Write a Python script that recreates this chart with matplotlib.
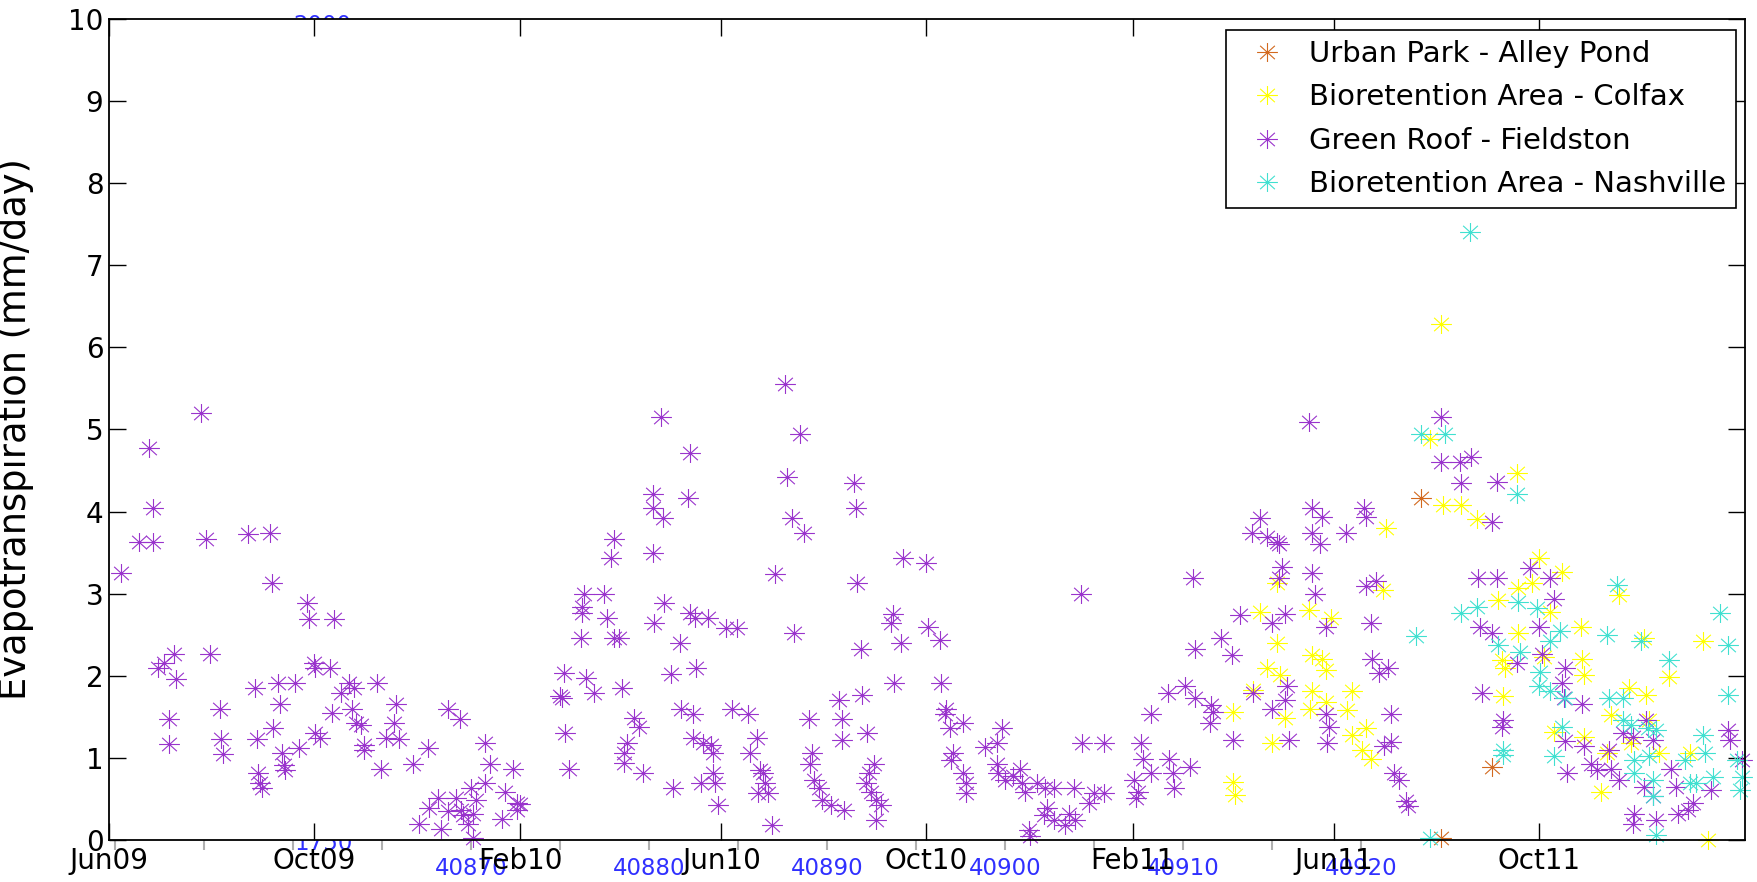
import numpy as np
import matplotlib
matplotlib.use("Agg")
import matplotlib.pyplot as plt
import matplotlib.dates as mdates
from matplotlib.path import Path

# days after 2009-06-01, evapotranspiration in mm/day
alley_day = [782, 824, 794]
alley_et = [4.16, 0.89, 0.02]

colfax_day = [794, 787, 839, 795, 806, 815, 761,
              686, 715, 728, 696, 759, 696, 717, 723, 725, 690, 698, 682, 670, 717,
              725, 716, 738, 741, 701, 693, 749, 741, 747, 752, 670, 671,
              852, 866, 840, 848, 828, 859, 840, 877, 900, 915, 950, 930, 830, 832,
              878, 879, 855, 831, 906, 916, 895, 918, 861, 879, 907, 924, 942, 889,
              953, 893]
colfax_et = [6.29, 4.88, 4.47, 4.08, 4.08, 3.91, 3.80,
             2.78, 2.80, 2.70, 3.13, 3.05, 2.40, 2.25, 2.21, 2.07, 2.09, 2.01, 1.83, 1.56, 1.81,
             1.68, 1.60, 1.58, 1.81, 1.48, 1.18, 1.36, 1.28, 1.10, 0.99, 0.71, 0.55,
             3.43, 3.27, 3.07, 3.13, 2.92, 2.78, 2.52, 2.60, 2.98, 2.46, 2.42, 1.99, 2.19, 2.09,
             2.21, 2.01, 2.23, 1.75, 1.85, 1.77, 1.52, 1.46, 1.32, 1.26, 1.18, 1.06, 1.06, 0.59,
             0.0, 1.06]

fieldston_day = [7, 18, 26, 24, 26, 29, 33, 39, 40, 36, 36, 55, 58, 60, 66, 67, 68,
                 83, 96, 97, 87, 88, 89, 90, 91, 101, 102, 98, 103, 104, 105, 111, 113,
                 118, 119, 134, 122, 123, 132, 123, 126, 133, 138, 143, 146, 145, 147,
                 150, 152, 152, 160, 171, 170, 165, 173, 162, 181, 190, 185, 191, 196,
                 198, 202, 209, 202, 207, 210, 211, 214, 216, 217, 217, 219, 224, 227,
                 224, 236, 234, 241, 243, 245, 243, 271, 269, 270, 272, 274, 283, 282,
                 282, 281, 284, 289, 295, 297, 301, 304, 301, 299, 306, 313, 316, 309,
                 307, 307, 318, 324, 324, 324, 325,
                 329, 330, 346, 345, 331, 346, 349, 357, 368, 374, 340, 335, 350, 341,
                 348, 371, 381, 348, 354, 359, 360, 353, 360, 361, 363, 336, 386, 382,
                 388, 390, 391, 387, 393, 395, 403, 412, 404, 407, 414, 397, 408, 444,
                 445, 446, 473, 487, 448, 467, 466, 472, 488, 495, 468, 496, 435, 449,
                 417, 437, 437, 452, 419, 418, 420, 423, 425, 430, 438, 456, 453, 451,
                 454, 457, 460, 457, 499, 498, 509, 501, 503, 502, 509, 511, 511, 522,
                 529, 532, 529, 530, 534, 539, 543, 544, 546, 553, 558, 563, 575, 559,
                 557, 563, 570, 548, 549, 572, 576, 584, 587, 593, 579, 580, 593, 611,
                 612, 613, 615, 616, 621, 621, 631, 641, 647, 632, 634, 635, 644, 646,
                 647,
                 715, 794, 794, 805, 812, 806, 827, 824, 686, 717, 723, 748, 749,
                 681, 690, 696, 697, 717, 722, 737, 699, 697, 717, 719, 749, 755, 674,
                 693, 701, 725, 752, 663, 669, 753, 757, 762, 657, 658, 656, 682, 702,
                 701, 693, 670, 703, 725, 727, 726, 764, 760, 764, 766, 769, 773, 774,
                 816, 827, 847, 859, 861, 852, 817, 824, 854, 839, 868, 866, 818, 878,
                 831, 830, 867, 879, 868, 883, 869, 887, 895, 900, 902, 908, 916, 920,
                 915, 920, 909, 908, 922, 931, 934, 935, 941, 944, 955, 965, 966, 973,
                 894]
fieldston_et = [3.25, 3.63, 3.63, 4.77, 4.04, 2.09, 2.16, 2.26, 1.96, 1.47, 1.17, 5.20, 3.67, 2.27, 1.60, 1.23, 1.05,
                3.73, 3.74, 3.13, 1.85, 1.23, 0.81, 0.69, 0.63, 1.91, 1.66, 1.36, 1.06, 0.91, 0.85, 1.91, 1.12,
                2.89, 2.69, 2.69, 2.15, 2.09, 2.10, 1.30, 1.24, 1.55, 1.79, 1.91, 1.85, 1.60, 1.42,
                1.40, 1.16, 1.10, 1.91, 1.66, 1.42, 1.24, 1.23, 0.86, 0.93, 1.12, 0.20, 0.39, 0.51,
                0.14, 1.60, 1.47, 0.35, 0.51, 0.37, 0.30, 0.20, 0.63, 0.32, 0.02, 0.49, 1.18, 0.93,
                0.69, 0.58, 0.26, 0.86, 0.45, 0.44, 0.37, 2.03, 1.75, 1.73, 1.30, 0.87, 3.00, 2.84,
                2.76, 2.46, 1.97, 1.79, 3.00, 2.70, 2.46, 2.46, 3.67, 3.43, 1.85, 1.48, 1.38, 1.18,
                1.06, 0.94, 0.81, 4.22, 4.04, 3.49, 2.64,
                5.15, 3.92, 4.71, 4.16, 2.89, 2.76, 2.70, 2.70, 2.58, 2.58, 2.40, 2.02, 2.09, 1.60,
                1.54, 1.60, 1.54, 1.24, 1.18, 1.16, 1.06, 0.69, 0.81, 0.69, 0.43, 0.63, 1.24, 1.06,
                0.85, 0.81, 0.69, 0.57, 0.57, 0.18, 5.56, 4.95, 4.42, 3.92, 3.74, 3.24, 2.52, 4.35,
                4.04, 3.13, 3.43, 3.38, 2.33, 2.75, 2.64, 2.40, 2.59, 2.44, 1.91, 1.91, 1.71, 1.77,
                1.47, 1.47, 1.22, 1.30, 1.06, 0.93, 0.73, 0.63, 0.49, 0.43, 0.37, 0.93, 0.81, 0.69,
                0.59, 0.49, 0.43, 0.24, 1.60, 1.54, 1.42, 1.36, 1.06, 0.98, 0.81, 0.69, 0.57, 1.13,
                1.18, 1.36, 0.93, 0.81, 0.73, 0.78, 0.87, 0.69, 0.59, 0.69, 0.63, 0.63, 0.63, 0.39,
                0.30, 0.24, 0.18, 0.12, 0.05, 0.32, 0.24, 0.45, 0.57, 0.57, 3.00, 1.18, 1.18, 0.73,
                0.51, 0.59, 1.18, 0.99, 1.54, 0.81, 1.79, 1.87, 1.73, 0.99, 0.81, 0.63, 0.89, 3.19,
                2.33,
                5.09, 5.15, 4.60, 4.60, 4.66, 4.35, 4.36, 3.87, 3.92, 4.04, 3.93, 4.04, 3.93,
                3.74, 3.69, 3.63, 3.61, 3.74, 3.61, 3.74, 3.33, 3.19, 3.25, 3.00, 3.09, 3.15, 2.74,
                2.64, 2.75, 2.59, 2.64, 2.46, 2.25, 2.21, 2.03, 2.09, 1.64, 1.56, 1.42, 1.79, 1.87,
                1.71, 1.60, 1.22, 1.22, 1.54, 1.38, 1.18, 1.54, 1.14, 1.19, 0.81, 0.73, 0.47, 0.41,
                3.19, 3.19, 3.31, 3.19, 2.93, 2.60, 2.60, 2.52, 2.27, 2.15, 2.09, 1.91, 1.79, 1.66,
                1.46, 1.38, 1.73, 1.14, 1.20, 0.93, 0.81, 0.85, 0.87, 0.73, 1.30, 1.26, 1.46, 1.22,
                0.65, 0.53, 0.32, 0.20, 0.24, 0.87, 0.65, 0.32, 0.37, 0.45, 0.61, 1.34, 1.22, 0.97,
                1.10]

nashville_day = [811, 782, 796, 839,
                 779, 806, 815, 840, 851, 899, 960, 828, 841, 865, 859, 893, 913, 965,
                 930, 853, 852, 859, 868, 894, 902, 965, 902, 907, 917, 922, 950, 866,
                 831, 831, 861, 951, 918, 909, 939, 942, 946, 956, 920, 920, 970, 973,
                 972, 922, 787, 909]
nashville_et = [7.40, 4.94, 4.94, 4.22,
                2.48, 2.77, 2.84, 2.90, 2.82, 3.11, 2.77, 2.38, 2.29, 2.54, 2.42, 2.50, 2.42, 2.38,
                2.19, 2.05, 1.87, 1.81, 1.73, 1.73, 1.73, 1.77, 1.46, 1.40, 1.36, 1.34, 1.28, 1.38,
                1.10, 1.04, 1.02, 1.06, 1.02, 0.81, 0.97, 0.69, 0.69, 0.77, 0.73, 0.53, 0.97, 0.77,
                0.61, 0.06, 0.02, 0.97]

series = [
    ("Urban Park - Alley Pond", alley_day, alley_et, "#d2691e"),
    ("Bioretention Area - Colfax", colfax_day, colfax_et, "#ffff00"),
    ("Green Roof - Fieldston", fieldston_day, fieldston_et, "#9933cc"),
    ("Bioretention Area - Nashville", nashville_day, nashville_et, "#40e0d0"),
]

tick_dates = ["2009-06-01", "2009-10-01", "2010-02-01", "2010-06-01",
              "2010-10-01", "2011-02-01", "2011-06-01", "2011-10-01"]
ghost_labels = [40870, 40880, 40890, 40900, 40910, 40920]

start = np.datetime64("2009-06-01")
end = np.datetime64("2012-02-01")

# MATLAB-like asterisk, slightly wider than tall
verts, codes = [], []
for a in np.deg2rad([0, 45, 90, 135]):
    verts += [(-1.1 * np.cos(a), -np.sin(a)), (1.1 * np.cos(a), np.sin(a))]
    codes += [Path.MOVETO, Path.LINETO]
asterisk = Path(verts, codes)

W, H = 1758, 882
fig = plt.figure(figsize=(W / 100, H / 100), dpi=100)
fig.patch.set_facecolor("white")

# leftover axis from an overlaid figure, drawn behind the main axes
gx0, gx1 = 115, 1420
ghost = fig.add_axes([gx0 / W, 42 / H, (gx1 - gx0) / W, 0.001], zorder=0)
ghost.set_xlim(40850, 40850 + (gx1 - gx0) / 17.8)
for s in ghost.spines.values():
    s.set_visible(False)
ghost.set_yticks([])
ghost.set_xticks(ghost_labels)
ghost.set_xticks(np.arange(40850, 40925, 5), minor=True)
ghost.set_xticklabels([str(v) for v in ghost_labels])
ghost.tick_params(axis="x", which="both", direction="out", length=7, width=1.5,
                  color="#b0b0b0", labelsize=16.5, labelcolor="#3030ff", pad=5)
ghost.patch.set_alpha(0)
fig.text(324 / W, 1 - 843 / H, "1750", color="#3030ff", fontsize=16.5,
         ha="center", va="center", zorder=0.5)
fig.text(322 / W, 1 - 14 / H, "2000", color="#3030ff", fontsize=16.5,
         ha="center", va="top", zorder=0.5)

ax = fig.add_axes([109 / W, 42 / H, 1636 / W, 821 / H], zorder=1)
ax.set_facecolor("white")

for name, day, et, color in series:
    x = start + np.array(day).astype("timedelta64[D]")
    ax.plot(x, et, ls="none", marker=asterisk, markersize=15, mfc="none",
            mec=color, mew=0.8, label=name, clip_on=False)

ax.set_xlim(start, end)
ax.set_ylim(0, 10)
ax.set_yticks(range(0, 11))
ax.set_xticks([np.datetime64(d) for d in tick_dates])
ax.xaxis.set_major_formatter(mdates.DateFormatter("%b%y"))
ax.tick_params(which="both", direction="in", top=True, right=True,
               length=12, width=1, labelsize=20)
ax.tick_params(axis="y", pad=4)
ax.tick_params(axis="x", pad=5)
for s in ax.spines.values():
    s.set_linewidth(1.3)

ax.set_ylabel("Evapotranspiration (mm/day)", fontsize=26.5)
ax.yaxis.set_label_coords(-0.046, 0.5)

leg = ax.legend(loc="upper right", bbox_to_anchor=(1736 / W, 1 - 30 / H),
                bbox_transform=fig.transFigure, borderaxespad=0, fontsize=21,
                frameon=True, fancybox=False, framealpha=1, edgecolor="black",
                borderpad=0.34, labelspacing=0.53, handlelength=2.15,
                handletextpad=0.35)
leg.get_frame().set_linewidth(1.2)

fig.savefig("out.png", dpi=100)
plt.close(fig)
